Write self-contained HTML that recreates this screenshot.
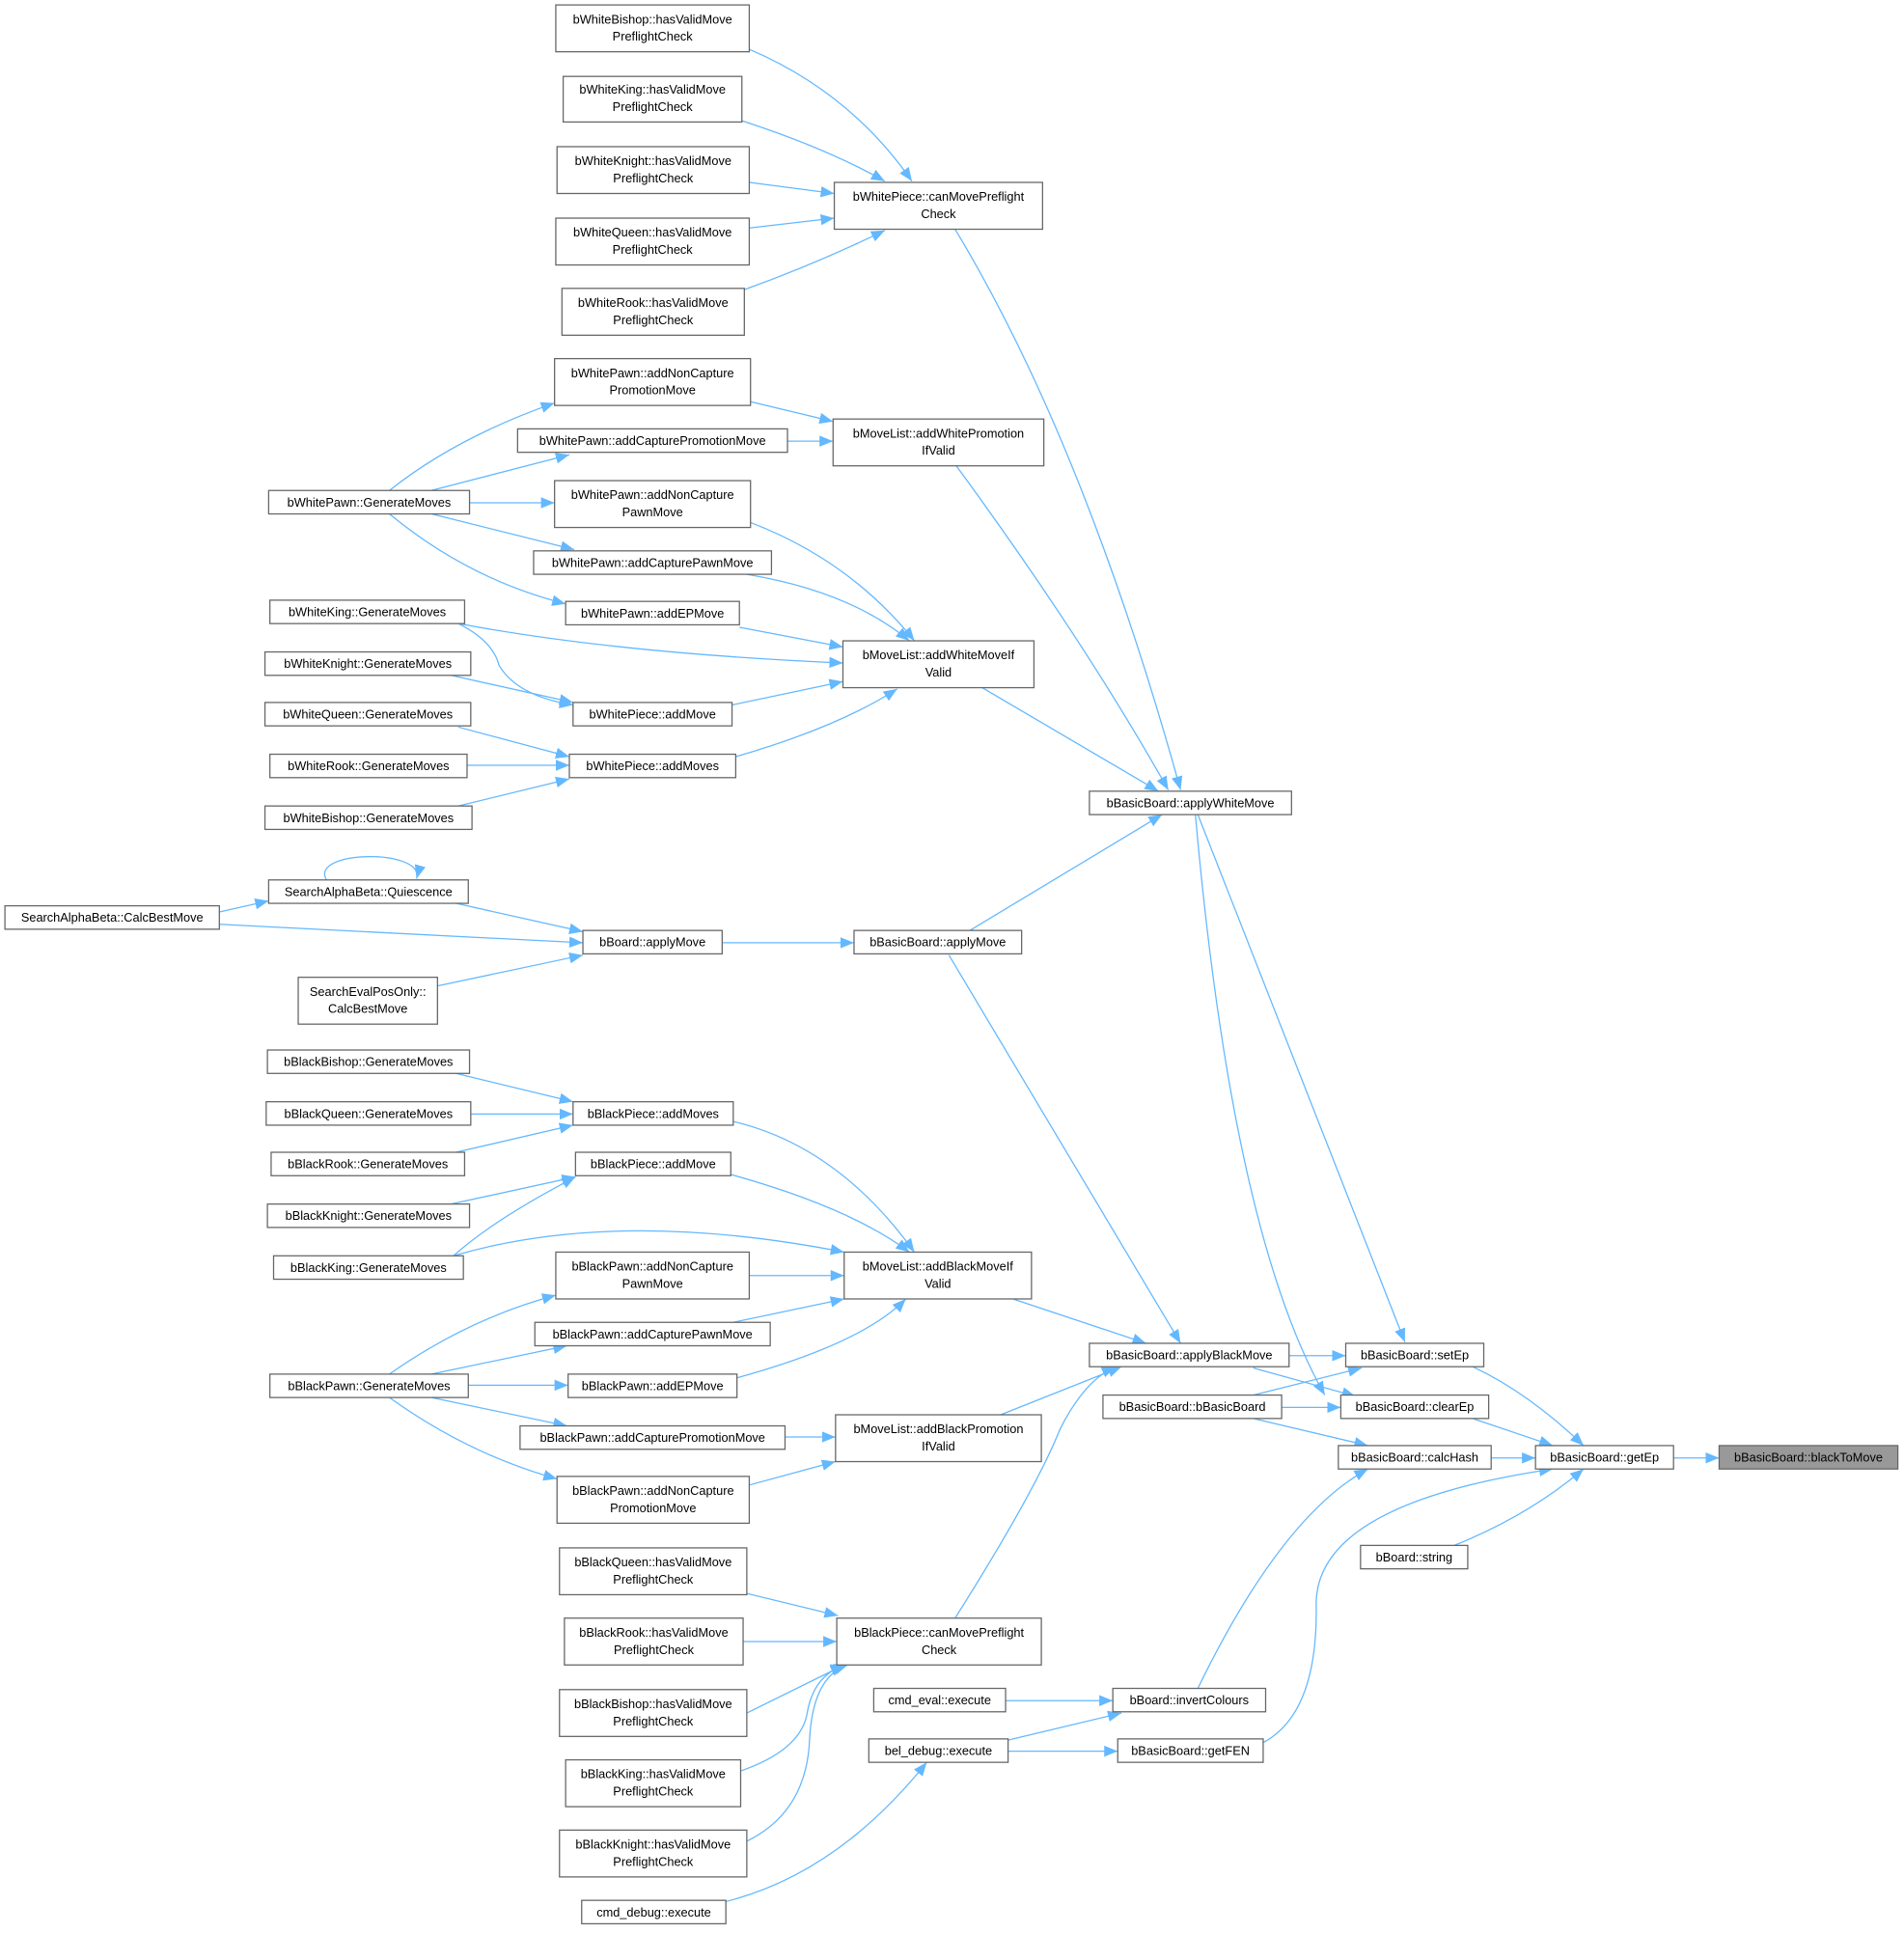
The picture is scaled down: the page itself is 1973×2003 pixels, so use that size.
<!DOCTYPE html>
<html><head><meta charset="utf-8"><style>
html,body{margin:0;padding:0;background:#fff;}
svg{display:block;}
text{font-family:"Liberation Sans",sans-serif;font-size:10px;fill:#000;text-anchor:middle;}
.n{fill:#fff;stroke:#666;stroke-width:1;}
.e{fill:none;stroke:#63b8ff;stroke-width:1;marker-end:url(#a);}
</style></head><body>
<svg width="1973" height="2003" viewBox="0 0 1545 1568.5" xmlns="http://www.w3.org/2000/svg">
<defs><marker id="a" markerUnits="userSpaceOnUse" markerWidth="12" markerHeight="10" refX="11" refY="5" orient="auto"><path d="M0,0.5 L11,5 L0,9.5 z" fill="#63b8ff"/></marker></defs>
<g>
<path class="e" d="M608,40 Q690,75 740,147"/>
<path class="e" d="M602,98 Q670,120 718,147"/>
<path class="e" d="M608,148 L677,157"/>
<path class="e" d="M608,185 L677,177"/>
<path class="e" d="M604,235 Q660,215 718,187"/>
<path class="e" d="M775,186 Q880,360 958,641"/>
<path class="e" d="M609,326 L676,342"/>
<path class="e" d="M639,358 L676,358"/>
<path class="e" d="M316,398 Q370,355 450,327"/>
<path class="e" d="M350,398 L462,369"/>
<path class="e" d="M381,408 L450,408"/>
<path class="e" d="M350,417 L466,446"/>
<path class="e" d="M316,417 Q380,470 459,490"/>
<path class="e" d="M609,424 Q690,455 742,520"/>
<path class="e" d="M606,466 Q690,480 738,520"/>
<path class="e" d="M600,509 L684,525"/>
<path class="e" d="M372,506 Q500,530 684,538"/>
<path class="e" d="M372,506 Q400,520 405,540 Q420,565 465,572"/>
<path class="e" d="M366,548 L465,570"/>
<path class="e" d="M594,572 L684,553"/>
<path class="e" d="M372,590 L462,614"/>
<path class="e" d="M379,621 L462,621"/>
<path class="e" d="M372,654 L462,632"/>
<path class="e" d="M597,614 Q680,590 728,559"/>
<path class="e" d="M797,558 L940,642"/>
<path class="e" d="M776,378 Q880,520 948,641"/>
<path class="e" d="M787,755 L943,661"/>
<path class="e" d="M265,714 C250,690 345,688 338,713"/>
<path class="e" d="M178,740 L218,731"/>
<path class="e" d="M178,750 L473,765"/>
<path class="e" d="M370,733 L473,756"/>
<path class="e" d="M355,800 L473,775"/>
<path class="e" d="M586,765 L693,765"/>
<path class="e" d="M770,775 L958,1090"/>
<path class="e" d="M972,661 Q1050,860 1140,1089"/>
<path class="e" d="M970,661 Q1000,1000 1075,1132"/>
<path class="e" d="M1046,1100 L1092,1100"/>
<path class="e" d="M1017,1110 L1100,1133"/>
<path class="e" d="M1017,1132 L1105,1110"/>
<path class="e" d="M1040,1142 L1088,1142"/>
<path class="e" d="M1017,1151 L1110,1173"/>
<path class="e" d="M1195,1109 Q1240,1130 1285,1173"/>
<path class="e" d="M1195,1151 L1260,1173"/>
<path class="e" d="M1210,1183 L1246,1183"/>
<path class="e" d="M1358,1183 L1395,1183"/>
<path class="e" d="M1180,1254 Q1240,1230 1285,1192"/>
<path class="e" d="M1025,1414 Q1070,1390 1068,1300 Q1070,1220 1260,1192"/>
<path class="e" d="M972,1370 Q1040,1230 1110,1192"/>
<path class="e" d="M822,1054 L930,1090"/>
<path class="e" d="M812,1148 L910,1109"/>
<path class="e" d="M775,1313 Q840,1210 860,1160 Q880,1120 905,1109"/>
<path class="e" d="M595,910 Q680,930 742,1016"/>
<path class="e" d="M593,953 Q690,980 738,1016"/>
<path class="e" d="M368,1019 Q500,980 685,1016"/>
<path class="e" d="M368,1019 Q400,990 467,955"/>
<path class="e" d="M366,977 L467,955"/>
<path class="e" d="M370,871 L465,894"/>
<path class="e" d="M382,904 L465,904"/>
<path class="e" d="M370,935 L465,913"/>
<path class="e" d="M608,1035 L685,1035"/>
<path class="e" d="M595,1073 L685,1054"/>
<path class="e" d="M598,1118 Q700,1090 735,1054"/>
<path class="e" d="M316,1115 Q380,1070 451,1051"/>
<path class="e" d="M350,1115 L460,1092"/>
<path class="e" d="M380,1124 L461,1124"/>
<path class="e" d="M350,1134 L460,1157"/>
<path class="e" d="M316,1134 Q380,1180 452,1200"/>
<path class="e" d="M637,1166 L678,1166"/>
<path class="e" d="M608,1205 L678,1186"/>
<path class="e" d="M606,1293 L680,1311"/>
<path class="e" d="M603,1332 L679,1332"/>
<path class="e" d="M606,1390 L685,1351"/>
<path class="e" d="M601,1437 Q650,1420 655,1390 Q660,1360 685,1351"/>
<path class="e" d="M606,1494 Q655,1470 657,1410 Q660,1360 688,1351"/>
<path class="e" d="M816,1380 L903,1380"/>
<path class="e" d="M818,1412 L910,1390"/>
<path class="e" d="M818,1421 L907,1421"/>
<path class="e" d="M589,1543 Q680,1520 752,1430"/>
</g>
<g>
<rect class="n" x="451" y="4" width="157" height="38"/><text x="529.5" y="19">bWhiteBishop::hasValidMove</text><text x="529.5" y="33">PreflightCheck</text>
<rect class="n" x="457" y="62" width="145" height="37"/><text x="529.5" y="76">bWhiteKing::hasValidMove</text><text x="529.5" y="90">PreflightCheck</text>
<rect class="n" x="452" y="119" width="156" height="38"/><text x="530" y="134">bWhiteKnight::hasValidMove</text><text x="530" y="148">PreflightCheck</text>
<rect class="n" x="451" y="177" width="157" height="38"/><text x="529.5" y="192">bWhiteQueen::hasValidMove</text><text x="529.5" y="206">PreflightCheck</text>
<rect class="n" x="456" y="234" width="148" height="38"/><text x="530" y="249">bWhiteRook::hasValidMove</text><text x="530" y="263">PreflightCheck</text>
<rect class="n" x="677" y="148" width="169" height="38"/><text x="761.5" y="163">bWhitePiece::canMovePreflight</text><text x="761.5" y="177">Check</text>
<rect class="n" x="450" y="291" width="159" height="38"/><text x="529.5" y="306">bWhitePawn::addNonCapture</text><text x="529.5" y="320">PromotionMove</text>
<rect class="n" x="420" y="348" width="219" height="19"/><text x="529.5" y="361">bWhitePawn::addCapturePromotionMove</text>
<rect class="n" x="676" y="340" width="171" height="38"/><text x="761.5" y="355">bMoveList::addWhitePromotion</text><text x="761.5" y="369">IfValid</text>
<rect class="n" x="218" y="398" width="163" height="19"/><text x="299.5" y="411">bWhitePawn::GenerateMoves</text>
<rect class="n" x="450" y="390" width="159" height="38"/><text x="529.5" y="405">bWhitePawn::addNonCapture</text><text x="529.5" y="419">PawnMove</text>
<rect class="n" x="433" y="447" width="193" height="19"/><text x="529.5" y="460">bWhitePawn::addCapturePawnMove</text>
<rect class="n" x="459" y="488" width="141" height="19"/><text x="529.5" y="501">bWhitePawn::addEPMove</text>
<rect class="n" x="219" y="487" width="158" height="19"/><text x="298" y="500">bWhiteKing::GenerateMoves</text>
<rect class="n" x="684" y="520" width="155" height="38"/><text x="761.5" y="535">bMoveList::addWhiteMoveIf</text><text x="761.5" y="549">Valid</text>
<rect class="n" x="215" y="529" width="167" height="19"/><text x="298.5" y="542">bWhiteKnight::GenerateMoves</text>
<rect class="n" x="465" y="570" width="129" height="19"/><text x="529.5" y="583">bWhitePiece::addMove</text>
<rect class="n" x="215" y="570" width="167" height="19"/><text x="298.5" y="583">bWhiteQueen::GenerateMoves</text>
<rect class="n" x="219" y="612" width="160" height="19"/><text x="299" y="625">bWhiteRook::GenerateMoves</text>
<rect class="n" x="462" y="612" width="135" height="19"/><text x="529.5" y="625">bWhitePiece::addMoves</text>
<rect class="n" x="215" y="654" width="168" height="19"/><text x="299" y="667">bWhiteBishop::GenerateMoves</text>
<rect class="n" x="884" y="642" width="164" height="19"/><text x="966" y="655">bBasicBoard::applyWhiteMove</text>
<rect class="n" x="218" y="714" width="162" height="19"/><text x="299" y="727">SearchAlphaBeta::Quiescence</text>
<rect class="n" x="4" y="735" width="174" height="19"/><text x="91" y="748">SearchAlphaBeta::CalcBestMove</text>
<rect class="n" x="473" y="755" width="113" height="19"/><text x="529.5" y="768">bBoard::applyMove</text>
<rect class="n" x="693" y="755" width="136" height="19"/><text x="761" y="768">bBasicBoard::applyMove</text>
<rect class="n" x="242" y="793" width="113" height="38"/><text x="298.5" y="808">SearchEvalPosOnly::</text><text x="298.5" y="822">CalcBestMove</text>
<rect class="n" x="217" y="852" width="164" height="19"/><text x="299" y="865">bBlackBishop::GenerateMoves</text>
<rect class="n" x="465" y="894" width="130" height="19"/><text x="530" y="907">bBlackPiece::addMoves</text>
<rect class="n" x="216" y="894" width="166" height="19"/><text x="299" y="907">bBlackQueen::GenerateMoves</text>
<rect class="n" x="220" y="935" width="157" height="19"/><text x="298.5" y="948">bBlackRook::GenerateMoves</text>
<rect class="n" x="467" y="935" width="126" height="19"/><text x="530" y="948">bBlackPiece::addMove</text>
<rect class="n" x="217" y="977" width="164" height="19"/><text x="299" y="990">bBlackKnight::GenerateMoves</text>
<rect class="n" x="222" y="1019" width="154" height="19"/><text x="299" y="1032">bBlackKing::GenerateMoves</text>
<rect class="n" x="685" y="1016" width="152" height="38"/><text x="761" y="1031">bMoveList::addBlackMoveIf</text><text x="761" y="1045">Valid</text>
<rect class="n" x="451" y="1016" width="157" height="38"/><text x="529.5" y="1031">bBlackPawn::addNonCapture</text><text x="529.5" y="1045">PawnMove</text>
<rect class="n" x="434" y="1073" width="191" height="19"/><text x="529.5" y="1086">bBlackPawn::addCapturePawnMove</text>
<rect class="n" x="219" y="1115" width="161" height="19"/><text x="299.5" y="1128">bBlackPawn::GenerateMoves</text>
<rect class="n" x="461" y="1115" width="137" height="19"/><text x="529.5" y="1128">bBlackPawn::addEPMove</text>
<rect class="n" x="884" y="1090" width="162" height="19"/><text x="965" y="1103">bBasicBoard::applyBlackMove</text>
<rect class="n" x="1092" y="1090" width="112" height="19"/><text x="1148" y="1103">bBasicBoard::setEp</text>
<rect class="n" x="895" y="1132" width="145" height="19"/><text x="967.5" y="1145">bBasicBoard::bBasicBoard</text>
<rect class="n" x="1088" y="1132" width="120" height="19"/><text x="1148" y="1145">bBasicBoard::clearEp</text>
<rect class="n" x="422" y="1157" width="215" height="19"/><text x="529.5" y="1170">bBlackPawn::addCapturePromotionMove</text>
<rect class="n" x="678" y="1148" width="167" height="38"/><text x="761.5" y="1163">bMoveList::addBlackPromotion</text><text x="761.5" y="1177">IfValid</text>
<rect class="n" x="1086" y="1173" width="124" height="19"/><text x="1148" y="1186">bBasicBoard::calcHash</text>
<rect class="n" x="1246" y="1173" width="112" height="19"/><text x="1302" y="1186">bBasicBoard::getEp</text>
<rect x="1395" y="1173" width="145" height="19" fill="#999" stroke="#666"/><text x="1467.5" y="1186">bBasicBoard::blackToMove</text>
<rect class="n" x="452" y="1198" width="156" height="38"/><text x="530" y="1213">bBlackPawn::addNonCapture</text><text x="530" y="1227">PromotionMove</text>
<rect class="n" x="1104" y="1254" width="87" height="19"/><text x="1147.5" y="1267">bBoard::string</text>
<rect class="n" x="454" y="1256" width="152" height="38"/><text x="530" y="1271">bBlackQueen::hasValidMove</text><text x="530" y="1285">PreflightCheck</text>
<rect class="n" x="679" y="1313" width="166" height="38"/><text x="762" y="1328">bBlackPiece::canMovePreflight</text><text x="762" y="1342">Check</text>
<rect class="n" x="458" y="1313" width="145" height="38"/><text x="530.5" y="1328">bBlackRook::hasValidMove</text><text x="530.5" y="1342">PreflightCheck</text>
<rect class="n" x="454" y="1371" width="152" height="38"/><text x="530" y="1386">bBlackBishop::hasValidMove</text><text x="530" y="1400">PreflightCheck</text>
<rect class="n" x="709" y="1370" width="107" height="19"/><text x="762.5" y="1383">cmd_eval::execute</text>
<rect class="n" x="903" y="1370" width="124" height="19"/><text x="965" y="1383">bBoard::invertColours</text>
<rect class="n" x="705" y="1411" width="113" height="19"/><text x="761.5" y="1424">bel_debug::execute</text>
<rect class="n" x="907" y="1411" width="118" height="19"/><text x="966" y="1424">bBasicBoard::getFEN</text>
<rect class="n" x="459" y="1428" width="142" height="38"/><text x="530" y="1443">bBlackKing::hasValidMove</text><text x="530" y="1457">PreflightCheck</text>
<rect class="n" x="454" y="1485" width="152" height="38"/><text x="530" y="1500">bBlackKnight::hasValidMove</text><text x="530" y="1514">PreflightCheck</text>
<rect class="n" x="472" y="1542" width="117" height="19"/><text x="530.5" y="1555">cmd_debug::execute</text>
</g>
</svg>
</body></html>
